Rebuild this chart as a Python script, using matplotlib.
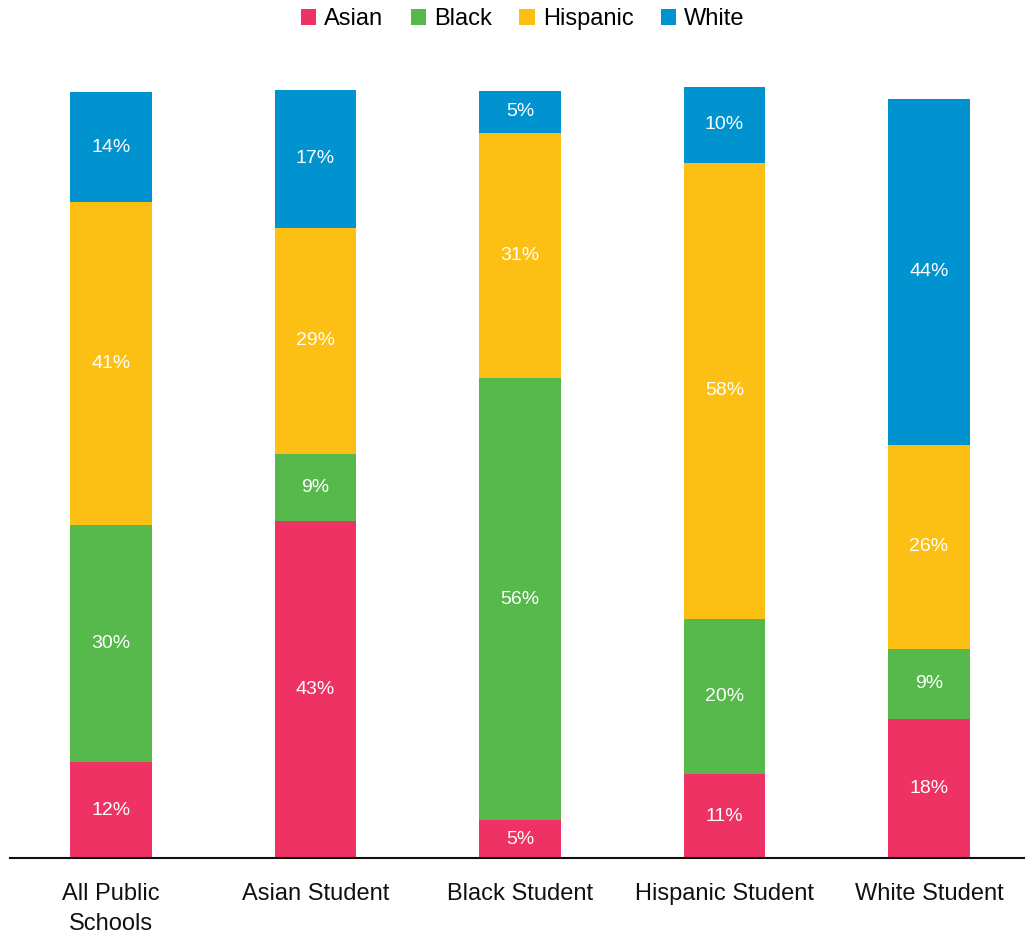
import matplotlib
matplotlib.use("Agg")
import matplotlib.pyplot as plt
import numpy as np

plt.rcParams['font.family'] = ['Liberation Sans', 'DejaVu Sans']

categories = ["All Public\nSchools", "Asian Student", "Black Student", "Hispanic Student", "White Student"]
series_names = ["Asian", "Black", "Hispanic", "White"]
asian = [12.1, 42.6, 4.8, 10.6, 17.6]
black = [30.1, 8.6, 55.9, 19.7, 8.9]
hispanic = [40.8, 28.6, 31.1, 57.7, 25.8]
white = [13.9, 17.4, 5.3, 9.6, 43.8]
colors = ["#EE3364", "#57B84B", "#FCBF13", "#0093D0"]

fig = plt.figure(figsize=(10.25, 9.34), dpi=100)
ax = fig.add_axes([10/1025, 76/934, 1015/1025, 790/934])

x = np.arange(len(categories))
bottom = np.zeros(len(categories))
handles = []
for name, vals, c in zip(series_names, [asian, black, hispanic, white], colors):
    vals = np.array(vals, dtype=float)
    bars = ax.bar(x, vals, 0.40, bottom=bottom, color=c, label=name, linewidth=0)
    handles.append(bars)
    for xi, b, v in zip(x, bottom, vals):
        ax.text(xi, b + v / 2, f"{int(round(v))}%", ha='center', va='center', color='white', fontsize=14)
    bottom += vals

ax.set_xlim(-0.494, 4.47)
ax.set_ylim(0, 100)
ax.set_yticks([])
ax.set_xticks(x)
ax.set_xticklabels(categories, fontsize=17, color='#111111', linespacing=1.5)
ax.tick_params(axis='x', length=0, pad=18)
for s in ['top', 'right', 'left']:
    ax.spines[s].set_visible(False)
ax.spines['bottom'].set_linewidth(1.5)
ax.spines['bottom'].set_color('#111111')

fig.legend(handles=handles, labels=series_names, loc='upper center', bbox_to_anchor=(0.51, 1.014),
           ncol=4, frameon=False, fontsize=17, handlelength=0.65, handleheight=0.65,
           handletextpad=0.35, columnspacing=1.15)

fig.savefig("out.png", dpi=100)
